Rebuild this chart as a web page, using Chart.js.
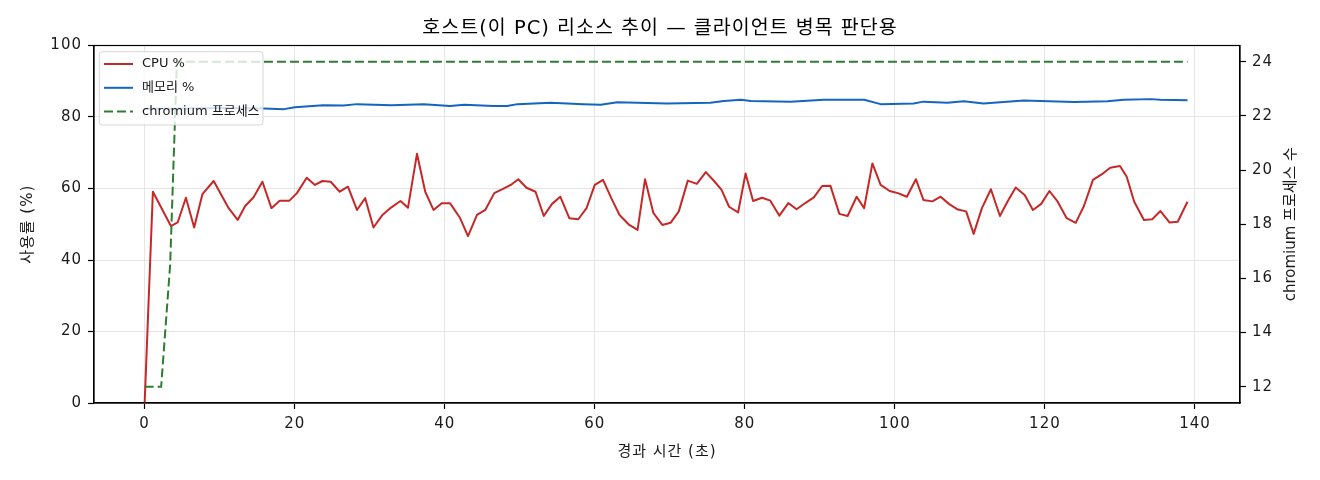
<!DOCTYPE html>
<html><head><meta charset="utf-8">
<script src="https://cdn.jsdelivr.net/npm/chart.js@4.4.1/dist/chart.umd.min.js"></script>
<style>html,body{margin:0;padding:0;background:#fff}#wrap{width:1320px;height:480px}</style>
</head><body><div id="wrap"><canvas id="c" width="1320" height="480"></canvas></div>
<script>
const chartTitle = "호스트(이 PC) 리소스 추이 — 클라이언트 병목 판단용";
const xTitle = "경과 시간 (초)";
const yLeftTitle = "사용률 (%)";
const yRightTitle = "chromium 프로세스 수";
const seriesLabels = ["CPU %", "메모리 %", "chromium 프로세스"];

const cpuTime = [0,1.1,3.5,4.4,5.5,6.6,7.7,9.2,11.2,12.4,
13.4,14.5,15.7,16.9,18.0,19.3,20.3,21.6,22.7,23.7,
24.8,26.0,27.1,28.3,29.4,30.5,31.7,32.8,34.1,35.1,
36.3,37.4,38.5,39.6,40.7,42.0,43.1,44.3,45.4,46.6,
47.7,48.8,49.8,50.9,52.1,53.2,54.3,55.4,56.6,57.8,
58.9,60.0,61.1,62.2,63.3,64.6,65.7,66.7,67.8,69.0,
70.1,71.2,72.4,73.6,74.8,75.9,76.9,77.9,79.1,80.1,
81.1,82.3,83.4,84.6,85.8,86.9,88.1,89.2,90.3,91.4,
92.6,93.7,94.9,95.9,97.0,98.1,99.3,100.4,101.6,102.8,
103.8,105.0,106.1,107.2,108.4,109.5,110.5,111.6,112.8,114.0,
115.0,116.1,117.3,118.4,119.5,120.6,121.7,122.9,124.1,125.2,
126.4,127.6,128.7,130.0,130.9,131.9,133.2,134.3,135.4,136.6,
137.7,139.0];
const cpuValues = [0,59.1,49.5,50.5,57.4,49.1,58.4,62.1,54.5,51.2,
55.1,57.5,61.9,54.5,56.6,56.6,58.7,63.0,61.0,62.1,
61.9,59.1,60.5,54.0,57.3,49.1,52.6,54.6,56.5,54.6,
69.7,59.1,54.0,55.9,55.9,51.9,46.7,52.6,54.0,58.7,
59.8,61.0,62.6,60.2,59.1,52.3,55.7,57.7,51.7,51.4,
54.5,61.0,62.4,57.3,52.6,49.8,48.4,62.6,53.2,49.8,
50.4,53.6,62.2,61.3,64.6,62.1,59.6,54.9,53.3,64.2,
56.5,57.4,56.6,52.4,55.9,54.2,56.0,57.5,60.7,60.8,
52.9,52.3,57.7,54.5,67.0,61.0,59.3,58.7,57.7,62.6,
56.8,56.4,57.7,55.7,54.1,53.6,47.3,54.5,59.8,52.3,
56.3,60.3,58.2,54.0,55.7,59.3,56.3,51.7,50.4,55.1,
62.4,64.0,65.8,66.3,63.3,56.3,51.2,51.4,53.7,50.5,
50.7,56.3];

const memTime = [0,5.1,10.0,15.9,18.6,20.0,23.8,26.5,28.3,32.9,37.2,40.7,42.6,46.5,48.3,49.7,54.1,58.5,60.8,63.0,
69.6,75.4,77.2,79.5,80.8,86.1,90.5,95.9,98.1,102.5,103.8,107.0,109.2,111.8,117.2,123.9,128.3,130.5,134.1,135.4,139.0];
const memValues = [82.3,82.4,82.5,82.4,82.2,82.7,83.3,83.2,83.6,83.3,83.6,83.1,83.4,83.1,83.1,83.6,84.0,83.6,83.4,84.1,
83.8,84.0,84.5,84.8,84.5,84.3,84.8,84.8,83.6,83.8,84.3,84.0,84.4,83.8,84.6,84.2,84.4,84.8,85.0,84.8,84.7];

const procTime = [0,1.1,2.2,3.4,4.3,139.0];
const procValues = [12,12,12,16.5,24,24];

const xTicksStep = 20, yLeftStep = 20, yRightStep = 2;

const toPts = (xs, ys) => xs.map((x, i) => ({x, y: ys[i]}));

const FONT = "'DejaVu Sans', 'Noto Sans CJK KR', sans-serif";
Chart.defaults.font.family = FONT;
Chart.defaults.color = '#1a1a1a';

const spacingPlugin = {
  id: 'spacing',
  beforeUpdate(chart) { chart.ctx.letterSpacing = '1px'; },
  beforeDraw(chart) { chart.ctx.letterSpacing = '1px'; }
};

const framePlugin = {
  id: 'frame',
  afterDatasetsDraw(chart) {
    const {ctx, chartArea: a} = chart;
    ctx.save();
    ctx.letterSpacing = '0px';
    ctx.strokeStyle = '#000';
    ctx.lineWidth = 1.2;
    ctx.setLineDash([]);
    ctx.strokeRect(a.left, a.top, a.right - a.left, a.bottom - a.top);

    // legend
    const lx = a.left + 5.3, ly = a.top + 6.2, lw = 163.7, lh = 73.3, r = 3;
    ctx.beginPath();
    ctx.moveTo(lx + r, ly);
    ctx.arcTo(lx + lw, ly, lx + lw, ly + lh, r);
    ctx.arcTo(lx + lw, ly + lh, lx, ly + lh, r);
    ctx.arcTo(lx, ly + lh, lx, ly, r);
    ctx.arcTo(lx, ly, lx + lw, ly, r);
    ctx.closePath();
    ctx.fillStyle = 'rgba(255,255,255,0.8)';
    ctx.fill();
    ctx.strokeStyle = 'rgba(204,204,204,0.8)';
    ctx.lineWidth = 1;
    ctx.stroke();
    chart.data.datasets.forEach((ds, i) => {
      const y = ly + 12.3 + i * 23.8;
      ctx.beginPath();
      ctx.strokeStyle = ds.borderColor;
      ctx.lineWidth = ds.borderWidth;
      ctx.setLineDash(ds.borderDash || []);
      ctx.moveTo(lx + 4.7, y);
      ctx.lineTo(lx + 33.7, y);
      ctx.stroke();
      ctx.setLineDash([]);
      ctx.fillStyle = '#1a1a1a';
      ctx.font = '13px ' + FONT;
      ctx.textBaseline = 'middle';
      ctx.textAlign = 'left';
      ctx.fillText(ds.label, lx + 42.7, y);
    });

    // right axis title (reads bottom to top)
    const s = chart.scales.y2;
    ctx.translate(s.right - 28.5, (a.top + a.bottom) / 2);
    ctx.rotate(-Math.PI / 2);
    ctx.font = '15px ' + FONT;
    ctx.textAlign = 'center';
    ctx.textBaseline = 'middle';
    ctx.fillStyle = '#1a1a1a';
    ctx.fillText(yRightTitle, 0, 0);
    ctx.restore();
  }
};

const gridBase = {color: '#e5e5e5', lineWidth: 1, tickColor: '#000', tickLength: 6, tickWidth: 1.2};

new Chart(document.getElementById('c'), {
  type: 'line',
  data: {
    datasets: [
      {label: seriesLabels[0], data: toPts(cpuTime, cpuValues), borderColor: '#c62828', borderWidth: 2, pointRadius: 0, tension: 0, yAxisID: 'y', order: 1, borderJoinStyle: 'round'},
      {label: seriesLabels[1], data: toPts(memTime, memValues), borderColor: '#1565c0', borderWidth: 2, pointRadius: 0, tension: 0, yAxisID: 'y', order: 1, borderJoinStyle: 'round'},
      {label: seriesLabels[2], data: toPts(procTime, procValues), borderColor: '#2e7d32', borderWidth: 2, borderDash: [9, 4], pointRadius: 0, tension: 0, yAxisID: 'y2', order: 0}
    ]
  },
  options: {
    responsive: false,
    devicePixelRatio: 1,
    animation: false,
    layout: {padding: 0},
    plugins: {
      legend: {display: false},
      tooltip: {enabled: false},
      title: {display: true, text: chartTitle, color: '#000', font: {size: 19.5, weight: 'normal', family: FONT}, padding: {top: 17, bottom: 5.1}}
    },
    scales: {
      x: {
        type: 'linear', min: -6.75, max: 146.0,
        grid: {...gridBase},
        border: {color: '#000', width: 1.2},
        ticks: {stepSize: xTicksStep, includeBounds: false, padding: 6, font: {size: 15}, color: '#1a1a1a', maxRotation: 0},
        title: {display: true, text: xTitle, font: {size: 15}, color: '#1a1a1a', padding: {top: 0, bottom: 19}},
        afterFit(s) { s.height = 77; }
      },
      y: {
        type: 'linear', position: 'left', min: 0, max: 100,
        grid: {...gridBase},
        border: {color: '#000', width: 1.2},
        ticks: {stepSize: yLeftStep, padding: 6, font: {size: 15}, color: '#1a1a1a'},
        title: {display: true, text: yLeftTitle, font: {size: 15}, color: '#1a1a1a', padding: {top: 19, bottom: 0}},
        afterFit(s) { s.width = 94; }
      },
      y2: {
        type: 'linear', position: 'right', min: 11.4, max: 24.6,
        grid: {...gridBase, drawOnChartArea: false},
        border: {color: '#000', width: 1.2},
        ticks: {stepSize: yRightStep, includeBounds: false, padding: 6, font: {size: 15}, color: '#1a1a1a'},
        afterFit(s) { s.width = 80; }
      }
    }
  },
  plugins: [spacingPlugin, framePlugin]
});
</script>
</body></html>
